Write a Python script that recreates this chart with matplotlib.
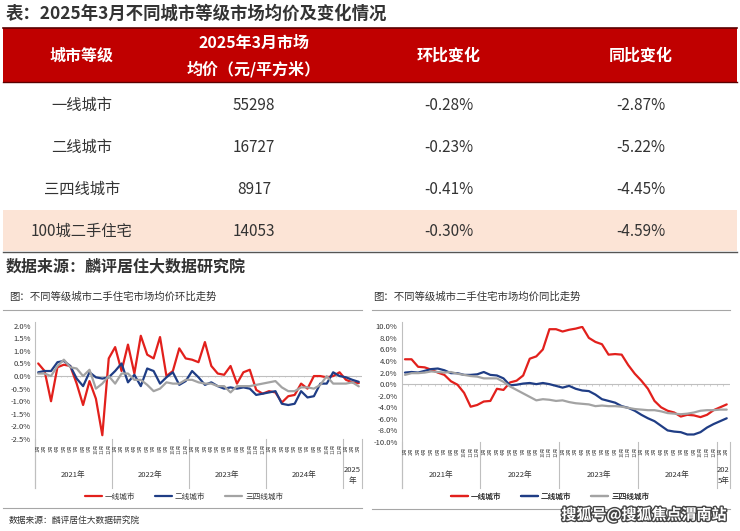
import numpy as np
import matplotlib
matplotlib.use('Agg')
from matplotlib import pyplot as plt
from matplotlib import transforms
from matplotlib import patheffects
from matplotlib.patches import Rectangle
from matplotlib.lines import Line2D

plt.rcParams['font.family'] = ['Noto Sans CJK SC', 'DejaVu Sans']

# %% table data
table_title = '表：2025年3月不同城市等级市场均价及变化情况'
table_header = ['城市等级', '2025年3月市场\n均价（元/平方米）', '环比变化', '同比变化']
city_levels = ['一线城市', '二线城市', '三四线城市', '100城二手住宅']
avg_price = [55298, 16727, 8917, 14053]
mom_change = ['-0.28%', '-0.23%', '-0.41%', '-0.30%']
yoy_change = ['-2.87%', '-5.22%', '-4.45%', '-4.59%']
source_text = '数据来源：麟评居住大数据研究院'

# %% chart data
series_names = ['一线城市', '二线城市', '三四线城市']
series_colors = ['#E2201C', '#1F3D85', '#A3A3A3']

# month-on-month, Jan 2021 - Mar 2025
mom_years = ['2021年', '2022年', '2023年', '2024年', '2025\n年']
mom_year_len = [12, 12, 12, 12, 3]
mom_tier1 = [0.50, 0.20, -1.00, 0.35, 0.45, 0.40, -0.30, -1.15, -0.20, -0.90, -2.35, 0.70,
             1.15, 0.20, 1.25, 0.10, 1.60, 0.85, 0.70, 1.55, 0.00, 0.20, 1.10, 0.70,
             0.65, 0.55, 1.35, 0.40, 0.10, 0.05, 0.40, -0.30, 0.15, 0.25, -0.55, -0.70,
             -0.60, -0.65, -1.05, -0.80, -0.75, -0.30, -0.50, 0.00, 0.00, -0.05, 0.00, 0.15,
             -0.15, -0.25, -0.28]
mom_tier2 = [0.15, 0.20, 0.20, 0.55, 0.60, 0.40, -0.10, -0.40, 0.15, -0.05, -0.10, -0.05,
             0.20, 0.50, -0.25, 0.05, -0.40, 0.30, 0.20, -0.30, -0.05, 0.15, -0.35, -0.20,
             0.20, -0.05, -0.35, -0.25, -0.40, -0.50, -0.45, -0.50, -0.45, -0.50, -0.75, -0.70,
             -0.65, -0.60, -1.10, -1.15, -1.10, -0.60, -0.85, -0.80, -0.30, -0.30, 0.15, 0.00,
             -0.05, -0.15, -0.23]
mom_tier3 = [0.10, 0.10, 0.00, 0.40, 0.65, 0.35, 0.30, 0.00, 0.25, -0.50, -0.30, 0.00,
             -0.30, 0.10, 0.10, -0.15, -0.15, -0.35, -0.60, -0.50, -0.25, -0.30, -0.30, -0.15,
             -0.15, -0.25, -0.30, -0.30, -0.40, -0.40, -0.65, -0.40, -0.40, -0.40, -0.35, -0.30,
             -0.25, -0.20, -0.45, -0.60, -0.60, -0.45, -0.45, -0.50, -0.35, 0.00, -0.30, -0.30,
             -0.30, -0.25, -0.41]

# year-on-year, Jan 2021 - Feb 2025
yoy_years = ['2021年', '2022年', '2023年', '2024年', '202\n5年']
yoy_year_len = [12, 12, 12, 12, 2]
yoy_tier1 = [4.3, 4.3, 3.0, 2.9, 2.5, 2.0, 1.6, 0.5, -0.1, -1.5, -3.9, -3.6,
             -3.0, -2.9, -0.8, -1.0, 0.3, 0.6, 1.5, 4.4, 4.8, 6.0, 9.5, 9.5,
             9.1, 9.4, 9.6, 9.9, 8.0, 7.3, 6.9, 5.1, 5.2, 5.1, 3.3, 1.8,
             0.6, -0.8, -2.9, -4.0, -4.6, -4.9, -5.6, -5.3, -5.4, -5.7, -5.3, -4.5,
             -4.0, -3.5]
yoy_tier2 = [2.0, 2.1, 2.0, 2.3, 2.6, 2.7, 2.4, 1.9, 1.9, 1.6, 1.6, 1.7,
             2.1, 1.6, 1.5, 1.0, -0.2, -0.1, 0.1, 0.2, 0.0, 0.2, 0.0, -0.3,
             -0.6, -0.3, -0.8, -1.1, -1.2, -1.8, -2.6, -2.9, -3.2, -3.8, -4.1, -4.6,
             -5.3, -5.9, -6.4, -7.2, -8.0, -8.2, -8.3, -8.7, -8.7, -8.3, -7.5, -6.9,
             -6.4, -5.9]
yoy_tier3 = [1.6, 1.9, 1.9, 2.0, 2.2, 2.1, 2.0, 2.1, 1.8, 1.6, 1.4, 1.3,
             1.0, 1.0, 1.0, 0.4, -0.4, -1.0, -1.6, -2.2, -2.8, -2.6, -2.7, -2.9,
             -2.8, -3.1, -3.3, -3.4, -3.5, -3.8, -3.7, -3.8, -3.8, -3.9, -4.1, -4.3,
             -4.4, -4.5, -4.5, -4.7, -5.0, -5.1, -5.2, -5.1, -4.9, -4.6, -4.5, -4.5,
             -4.4, -4.4]

W, H = 740, 531
fig = plt.figure(figsize=(W / 100, H / 100), dpi=100)
fig.patch.set_facecolor('white')

# overlay axes in pixel coordinates
ov = fig.add_axes([0, 0, 1, 1], zorder=0)
ov.set_xlim(0, W)
ov.set_ylim(H, 0)
ov.axis('off')

def px_axes(l, t, r, b):
    return fig.add_axes([l / W, 1 - b / H, (r - l) / W, (b - t) / H], zorder=1)

# %% table
text_c = '#333333'
ov.text(6, 14, table_title, fontsize=12.5, color=text_c, va='center', ha='left', fontweight='bold')
ov.add_patch(Rectangle((3, 28), 734, 54, facecolor='#C00000', edgecolor='none'))
ov.plot([3, 737], [27.5, 27.5], color='#5a0000', lw=1.2)
ov.plot([3, 737], [82, 82], color='#5a0000', lw=1.0)
col_x = [82, 254, 449, 641]
for x, h in zip(col_x, table_header):
    ov.text(x, 56, h, fontsize=11.5, color='white', ha='center', va='center',
            fontweight='bold', linespacing=1.7)
row_y = [105, 147, 189, 231]
ov.add_patch(Rectangle((3, 210), 734, 41, facecolor='#FCE4D6', edgecolor='none'))
ov.plot([3, 737], [251.5, 251.5], color='#555555', lw=1.0)
for y, name, price, m, yy in zip(row_y, city_levels, avg_price, mom_change, yoy_change):
    ov.text(col_x[0], y, name, fontsize=11, color=text_c, ha='center', va='center')
    ov.text(col_x[1], y, str(price), fontsize=11, color=text_c, ha='center', va='center')
    ov.text(col_x[2], y, m, fontsize=11, color=text_c, ha='center', va='center')
    ov.text(col_x[3], y, yy, fontsize=11, color=text_c, ha='center', va='center')
ov.text(6, 266, source_text, fontsize=11.5, color=text_c, va='center', ha='left', fontweight='bold')


# %% charts
def draw_chart(box, title, title_x, line_x, series, years, year_len, yticks, ylim, fmt,
               legend_x, bottom_line):
    l, t, r, b = box
    ov.text(title_x, 297, title, fontsize=7.5, color=text_c, va='center', ha='left')
    ov.plot(line_x, [310, 310], color='#A6A6A6', lw=0.8)
    ov.plot(line_x, [bottom_line, bottom_line], color='#A6A6A6', lw=0.8)

    ax = px_axes(l, t, r, b)
    ax.patch.set_alpha(0)
    n = sum(year_len)
    xs = np.arange(n)
    ax.axhline(0, color='#BFBFBF', lw=0.8, zorder=1)
    ax.vlines(np.arange(n + 1) - 0.5, 0, -(ylim[1] - ylim[0]) * 0.012, color='#BFBFBF', lw=0.5)
    handles = []
    for vals, c, name in zip(series, series_colors, series_names):
        hl, = ax.plot(xs, vals, color=c, lw=1.6, solid_joinstyle='round',
                      solid_capstyle='round', zorder=3, label=name)
        handles.append(hl)
    ax.set_xlim(-0.5, n - 0.5)
    ax.set_ylim(*ylim)
    ax.set_yticks(yticks)
    ax.set_yticklabels([fmt.format(v) for v in yticks], fontsize=5.5, color=text_c)
    ax.tick_params(axis='y', length=0, pad=3)
    ax.set_xticks([])
    for s in ax.spines.values():
        s.set_visible(False)

    trans = transforms.blended_transform_factory(ax.transData, ov.transData)
    ax.add_line(Line2D([-0.5, -0.5], [t - 4, 488], transform=trans, color='#BFBFBF', lw=0.8,
                       clip_on=False))
    # month labels
    i = 0
    bounds = [-0.5]
    for yl in year_len:
        for m in range(1, yl + 1):
            ax.text(i, b + 5, f'{m}月', transform=trans, fontsize=3.5, color='#555555',
                    rotation=90, ha='center', va='top', clip_on=False)
            i += 1
        bounds.append(i - 0.5)
    for bx in bounds:
        ax.add_line(Line2D([bx, bx], [b, 488], transform=trans, color='#BFBFBF', lw=0.8,
                           clip_on=False))
    for k, yname in enumerate(years):
        cx = (bounds[k] + bounds[k + 1]) / 2
        ax.text(cx, 475, yname, transform=trans, fontsize=5.5, color=text_c, ha='center',
                va='center', clip_on=False, linespacing=1.5)
    leg = ov.legend(handles, series_names, loc='center', bbox_to_anchor=(legend_x, 497),
                    bbox_transform=ov.transData, ncol=3, frameon=False, fontsize=5.5,
                    handlelength=2.2, columnspacing=2.6, handletextpad=0.4,
                    labelcolor=text_c)
    ov.add_artist(leg)
    return ax


ax1 = draw_chart((35, 325.7, 362, 439), '图：不同等级城市二手住宅市场均价环比走势', 9, [3, 362],
                 [mom_tier1, mom_tier2, mom_tier3], mom_years, mom_year_len,
                 np.arange(-2.5, 2.01, 0.5), (-2.5, 2.0), '{:.1f}%', 184, 508)
ax2 = draw_chart((401.7, 326.3, 730, 442), '图：不同等级城市二手住宅市场均价同比走势', 373, [372, 730],
                 [yoy_tier1, yoy_tier2, yoy_tier3], yoy_years, yoy_year_len,
                 np.arange(-10, 10.01, 2.0), (-10, 10), '{:.1f}%', 550, 509)

ov.text(9, 520, source_text, fontsize=6.3, color=text_c, va='center', ha='left')

# watermark
fig.text(644 / W, 1 - 515 / H, '搜狐号@搜狐焦点渭南站', fontsize=10.8, color='white',
         ha='center', va='center', fontweight='bold', zorder=10,
         path_effects=[patheffects.withStroke(linewidth=2, foreground='#444444')])

fig.savefig('out.png', dpi=100)
